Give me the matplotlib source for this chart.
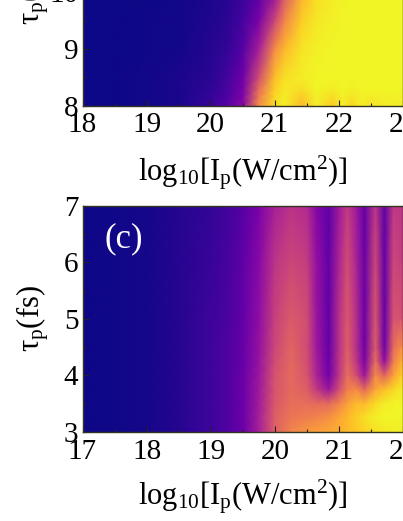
import numpy as np
import matplotlib
matplotlib.use("Agg")
import matplotlib.pyplot as plt
from matplotlib.ticker import MultipleLocator

plt.rcParams['font.family'] = ['Liberation Serif', 'DejaVu Serif']
plt.rcParams['mathtext.fontset'] = 'custom'
plt.rcParams['mathtext.rm'] = 'Liberation Serif'
plt.rcParams['mathtext.it'] = 'Liberation Serif:italic'
plt.rcParams['mathtext.default'] = 'regular'

# Panel above (c): intensity columns, pulse-duration rows
top_x = [18, 18.5, 19, 19.5, 20, 20.25, 20.5, 20.75, 21, 21.15, 21.42, 21.65, 21.9, 22.05, 22.2, 22.35, 22.5, 22.75, 23]
top_y = [8, 8.15, 8.3, 8.5, 9, 9.5, 10]
top_z = [
    [0, .003, .008, .02, .08, .15, .28, .72, .93, .98, .85, .98, .89, .98, .92, .98, .95, .98, .97],
    [0, .003, .008, .02, .07, .13, .25, .68, .92, .97, .89, .98, .93, .98, .95, .98, .97, .98, .98],
    [0, .003, .008, .02, .06, .12, .23, .62, .90, .96, .94, .99, .97, .99, .98, .99, .99, .99, .99],
    [0, .003, .008, .02, .05, .10, .21, .52, .86, .94, .97, .99, .99, .99, .99, .99, .99, .99, .99],
    [0, .003, .006, .01, .04, .07, .15, .36, .72, .84, .95, .98, .99, .99, .99, .99, .99, .99, .99],
    [0, .002, .004, .01, .03, .05, .11, .24, .50, .70, .90, .96, .98, .99, .99, .99, .99, .99, .99],
    [0, .002, .003, .01, .02, .04, .08, .16, .31, .55, .82, .93, .97, .98, .99, .99, .99, .99, .99],
]

# Panel (c)
c_x = [17, 17.5, 18, 18.5, 19, 19.25, 19.5, 19.75, 20, 20.25, 20.5, 20.65, 20.84, 21.0, 21.13, 21.27, 21.4, 21.57, 21.71, 21.85, 21.96, 22]
c_y = [3, 3.25, 3.5, 3.75, 4, 4.25, 4.5, 5, 6, 7]
c_z = [
    [0, .005, .015, .04, .09, .13, .20, .36, .58, .70, .76, .78, .80, .82, .85, .88, .91, .94, .96, .97, .98, .98],
    [0, .005, .015, .04, .09, .13, .20, .36, .58, .66, .68, .70, .74, .80, .84, .90, .94, .98, .99, .99, .99, .99],
    [0, .005, .015, .04, .09, .13, .20, .35, .56, .63, .63, .62, .62, .70, .78, .85, .85, .93, .97, .99, .99, .99],
    [0, .005, .015, .04, .09, .13, .20, .34, .55, .62, .58, .46, .33, .52, .68, .72, .62, .80, .86, .92, .96, .96],
    [0, .005, .015, .04, .09, .13, .20, .33, .54, .62, .55, .38, .22, .44, .63, .52, .33, .72, .60, .78, .88, .88],
    [0, .005, .015, .04, .09, .13, .19, .32, .52, .61, .53, .36, .20, .43, .60, .45, .24, .64, .30, .68, .80, .80],
    [0, .005, .015, .04, .09, .13, .19, .31, .50, .60, .52, .34, .19, .42, .58, .42, .21, .58, .21, .62, .72, .72],
    [0, .005, .015, .04, .09, .12, .18, .30, .48, .57, .52, .33, .18, .42, .56, .42, .20, .56, .19, .54, .54, .52],
    [0, .005, .015, .04, .08, .11, .17, .28, .44, .50, .47, .31, .18, .38, .52, .38, .19, .51, .18, .50, .48, .46],
    [0, .005, .015, .04, .07, .10, .15, .24, .37, .43, .40, .27, .17, .34, .46, .34, .18, .45, .17, .45, .44, .42],
]

FW, FH = 403, 521
TICK_PT = 21
LABEL_PT = 22
fig = plt.figure(figsize=(FW / 100, FH / 100), dpi=100)


def add_axes(left, right, top, bottom):
    return fig.add_axes([left / FW, 1 - bottom / FH, (right - left) / FW, (bottom - top) / FH])


def style(ax, xlim, ylim, xticks, yticks):
    ax.set_xlim(*xlim)
    ax.set_ylim(*ylim)
    ax.set_xticks(xticks)
    ax.set_yticks(yticks)
    ax.xaxis.set_minor_locator(MultipleLocator(0.5))
    ax.yaxis.set_minor_locator(MultipleLocator(0.5))
    ax.tick_params(which='major', direction='in', length=4.5, width=0.8, labelsize=TICK_PT, color='#222222',
                   top=False, right=False)
    ax.tick_params(axis='x', which='major', pad=5)
    ax.tick_params(axis='y', which='major', pad=3)
    ax.tick_params(which='minor', direction='in', length=2.2, width=0.8, color='#222222', top=False, right=False)
    for s in ax.spines.values():
        s.set_linewidth(1.0)
        s.set_color('#333322')


def labels(ax_y_center, xlabel_y):
    fig.text(243 / FW, 1 - xlabel_y / FH, r'$\mathregular{log_{10}[I_p(W/cm^2)]}$', fontsize=LABEL_PT,
             ha='center', va='center')
    fig.text(33 / FW, 1 - ax_y_center / FH, r'$\mathregular{\tau_p(fs)}$', fontsize=LABEL_PT,
             rotation=90, ha='center', va='center')


ax1 = add_axes(82.5, 403, -7.7, 105.5)
ax1.pcolormesh(top_x, top_y, np.array(top_z), cmap='plasma', vmin=0, vmax=1, shading='gouraud', rasterized=True)
style(ax1, (18, 23), (8, 10), [18, 19, 20, 21, 22, 23], [8, 9, 10])
labels(-8, 173)

ax2 = add_axes(82.5, 403, 206, 431.7)
ax2.pcolormesh(c_x, c_y, np.array(c_z), cmap='plasma', vmin=0, vmax=1, shading='gouraud', rasterized=True)
style(ax2, (17, 22), (3, 7), [17, 18, 19, 20, 21, 22], [3, 4, 5, 6, 7])
ax2.text(104 / FW, 1 - 239 / FH, '(c)', transform=fig.transFigure, color='white', fontsize=25,
         ha='left', va='center')
labels(319, 497)

fig.savefig('out.png', dpi=100)
